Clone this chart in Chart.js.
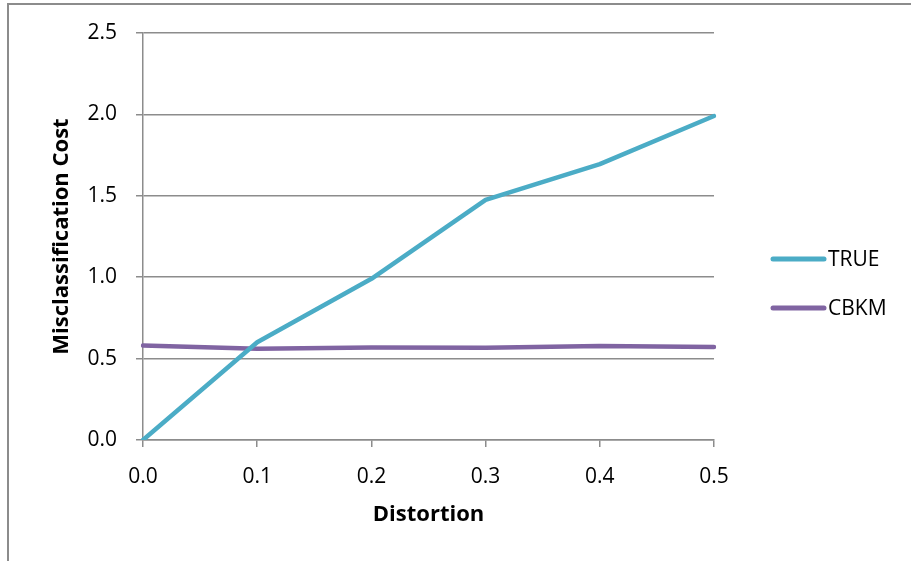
<!DOCTYPE html>
<html>
<head>
<meta charset="utf-8">
<script src="https://cdn.jsdelivr.net/npm/chart.js@4/dist/chart.umd.min.js"></script>
<style>
  html, body { margin: 0; padding: 0; background: #fff; }
  #wrap { position: relative; width: 911px; height: 561px; overflow: hidden; }
  #frame { position: absolute; left: 7px; top: 3px; width: 1000px; height: 1000px;
           border-left: 2px solid #8c8c8c; border-top: 2px solid #8c8c8c; pointer-events: none; }
  canvas { position: absolute; left: 0; top: 0; }
</style>
</head>
<body>
<div id="wrap">
  <canvas id="c" width="911" height="561"></canvas>
  <div id="frame"></div>
</div>
<script>
// Distortion levels on the x axis
const distortion = ['0.0', '0.1', '0.2', '0.3', '0.4', '0.5'];
// Misclassification cost per method
const trueCost = [0.0, 0.60, 0.99, 1.475, 1.695, 1.99];
const cbkmCost = [0.58, 0.56, 0.568, 0.566, 0.578, 0.572];
const seriesNames = ['TRUE', 'CBKM'];
const yTicks = [0.0, 0.5, 1.0, 1.5, 2.0, 2.5];

const FONT = '"Open Sans", Lato, sans-serif';
const FS = 21;       // tick and legend text
const FS_TITLE = 22; // axis titles

// Legend drawn to the right of the plot: a short thick line and the series name
const sideLegend = {
  id: 'sideLegend',
  afterDraw(chart) {
    const ctx = chart.ctx;
    const rows = [259, 308];
    ctx.save();
    chart.data.datasets.forEach((ds, i) => {
      const y = rows[i];
      ctx.strokeStyle = ds.borderColor;
      ctx.lineWidth = 5;
      ctx.lineCap = 'round';
      ctx.beginPath();
      ctx.moveTo(773, y);
      ctx.lineTo(824, y);
      ctx.stroke();
      ctx.fillStyle = '#000';
      ctx.font = FS + 'px ' + FONT;
      ctx.textBaseline = 'middle';
      ctx.textAlign = 'left';
      ctx.fillText(ds.label, 828, y + 1);
    });
    ctx.restore();
  }
};

new Chart(document.getElementById('c'), {
  type: 'line',
  data: {
    labels: distortion,
    datasets: [
      { label: seriesNames[0], data: trueCost, borderColor: '#4BACC6', backgroundColor: '#4BACC6',
        borderWidth: 4.5, pointRadius: 0, tension: 0, borderCapStyle: 'round', borderJoinStyle: 'round' },
      { label: seriesNames[1], data: cbkmCost, borderColor: '#8064A2', backgroundColor: '#8064A2',
        borderWidth: 4.5, pointRadius: 0, tension: 0, borderCapStyle: 'round', borderJoinStyle: 'round' }
    ]
  },
  options: {
    responsive: false,
    animation: false,
    layout: { padding: { top: 33, right: 197, left: 0, bottom: 0 } },
    plugins: { legend: { display: false }, tooltip: { enabled: false } },
    scales: {
      x: {
        type: 'category',
        offset: false,
        grid: { display: true, drawOnChartArea: false, drawTicks: true, tickLength: 7, color: '#8c8c8c', lineWidth: 1.5 },
        border: { display: true, color: '#8c8c8c', width: 1.5 },
        ticks: { color: '#000', font: { family: FONT, size: FS }, padding: 17, maxRotation: 0 },
        title: { display: true, text: 'Distortion', color: '#000', font: { family: FONT, size: FS_TITLE, weight: 'bold' }, padding: { top: 0, bottom: 33 } },
        afterFit(s) { s.height = 121; }
      },
      y: {
        min: 0, max: 2.5,
        afterBuildTicks(s) { s.ticks = yTicks.map(v => ({ value: v })); },
        grid: { color: '#8c8c8c', lineWidth: 1.5, drawTicks: true, tickLength: 7 },
        border: { display: true, color: '#8c8c8c', width: 1.5 },
        ticks: { color: '#000', font: { family: FONT, size: FS }, padding: 19, callback: v => Number(v).toFixed(1) },
        title: { display: true, text: 'Misclassification Cost', color: '#000', font: { family: FONT, size: FS_TITLE, weight: 'bold' }, padding: { top: 49, bottom: 0 } },
        afterFit(s) { s.width = 143; }
      }
    }
  },
  plugins: [sideLegend]
});
</script>
</body>
</html>
